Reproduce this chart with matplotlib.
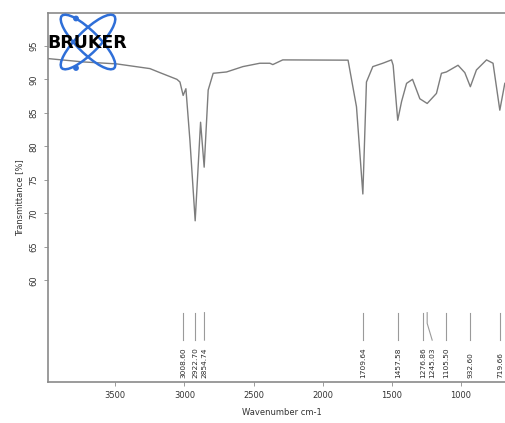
import matplotlib
matplotlib.use("Agg")
import matplotlib.pyplot as plt
from matplotlib.patches import Ellipse, Circle

# Spectrum (wavenumber cm-1, transmittance %)
wavenumber = [3988, 3733, 3488, 3249, 3177, 3054, 3032, 3009, 2989, 2960, 2922,
              2883, 2857, 2828, 2792, 2695, 2577, 2455, 2382, 2361, 2289, 1817,
              1756, 1710, 1684, 1638, 1566, 1503, 1491, 1458, 1430, 1394, 1351,
              1298, 1245, 1178, 1142, 1106, 1022, 973, 933, 889, 816, 769, 720, 684]
transmittance = [93.1, 92.6, 92.3, 91.6, 91.0, 90.0, 89.6, 87.6, 88.6, 80.9, 68.9,
                 83.6, 76.9, 88.4, 90.9, 91.1, 91.9, 92.4, 92.4, 92.2, 92.9, 92.86,
                 85.9, 72.9, 89.6, 91.9, 92.4, 92.9, 92.1, 83.9, 86.7, 89.4, 90.0,
                 87.1, 86.4, 87.9, 90.9, 91.1, 92.1, 91.0, 88.9, 91.4, 92.9, 92.4, 85.4, 89.4]

peak_positions = [3008.60, 2922.70, 2854.74, 1709.64, 1457.58, 1276.86, 1245.03,
                  1105.50, 932.60, 719.66]
peak_labels = ["3008.60", "2922.70", "2854.74", "1709.64", "1457.58", "1276.86",
               "1245.03", "1105.50", "932.60", "719.66"]

xticks = [3500, 3000, 2500, 2000, 1500, 1000]
yticks = [60, 65, 70, 75, 80, 85, 90, 95]

W, H = 505, 423
fig = plt.figure(figsize=(W / 100, H / 100), dpi=100)
left_px, right_px, top_px, bot_px = 47.7, 516, 13.3, 381.7
ax = fig.add_axes([left_px / W, 1 - bot_px / H, (right_px - left_px) / W, (bot_px - top_px) / H])

grey = "#8a8a8a"
ax.plot(wavenumber, transmittance, color="#7d7d7d", lw=1.0)
ax.set_xlim(3988, 603)
ax.set_ylim(44.9, 99.85)

# label positions: keep a minimum spacing between neighbouring labels
min_sep = 68
label_x = []
for p in peak_positions:
    if label_x and label_x[-1] - p < min_sep:
        label_x.append(label_x[-1] - min_sep)
    else:
        label_x.append(p)

for p, lx, lab in zip(peak_positions, label_x, peak_labels):
    ax.plot([p, p, lx], [55.2, 53.6, 51.1], color="#9a9a9a", lw=0.8)
    ax.text(lx, 45.5, lab, rotation=90, ha="center", va="bottom", fontsize=5.3,
            color="#2a2a2a")

ax.set_xticks(xticks)
ax.set_yticks(yticks)
ax.tick_params(axis="both", direction="out", length=3, width=0.6, color=grey,
               labelsize=6, labelcolor="#333333")
for lbl in ax.get_yticklabels():
    lbl.set_rotation(90)
    lbl.set_va("center")
ax.spines["right"].set_visible(False)
for s in ["left", "top", "bottom"]:
    ax.spines[s].set_color(grey)
    ax.spines[s].set_linewidth(1.2)
ax.set_xlabel("Wavenumber cm-1", fontsize=6, color="#333333", labelpad=6)
ax.set_ylabel("Transmittance [%]", fontsize=6, color="#333333", labelpad=4)

# Logo
lx0, lx1, ly0, ly1 = 45, 130, 10, 75
lax = fig.add_axes([lx0 / W, 1 - ly1 / H, (lx1 - lx0) / W, (ly1 - ly0) / H])
lax.set_xlim(lx0, lx1)
lax.set_ylim(ly1, ly0)
lax.axis("off")
lax.patch.set_alpha(0)
blue = "#2f6fd8"
for ang in (45, -45):
    lax.add_patch(Ellipse((88, 42), 74, 22, angle=ang, fill=False, ec=blue, lw=1.8))
lax.add_patch(Circle((76, 18.5), 2.2, color=blue))
lax.add_patch(Circle((76, 68), 2.2, color=blue))
lax.text(87.5, 42.5, "BRUKER", ha="center", va="center", fontsize=12.5,
         fontweight="heavy", color="black", zorder=5)

fig.savefig("out.png", dpi=100)
